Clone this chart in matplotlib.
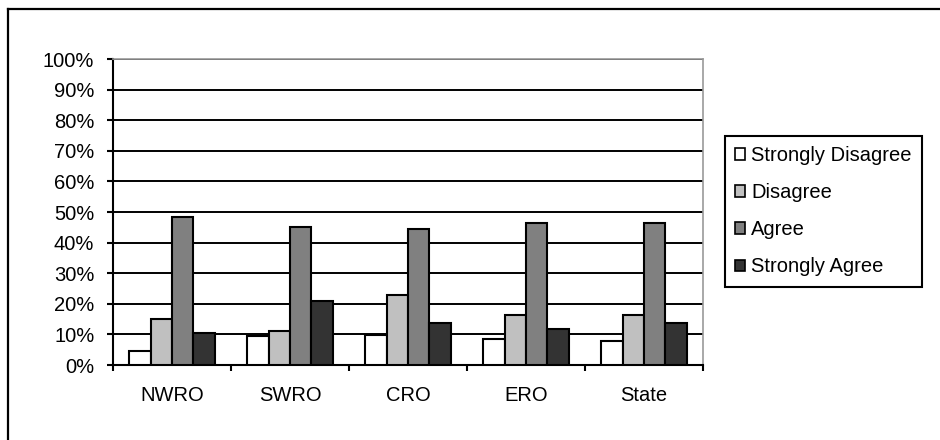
import numpy as np
import matplotlib
matplotlib.use("Agg")
import matplotlib.pyplot as plt
from matplotlib.patches import Patch
from matplotlib.lines import Line2D

plt.rcParams['font.family'] = ['Liberation Sans', 'DejaVu Sans']

regions = ["NWRO", "SWRO", "CRO", "ERO", "State"]
series_names = ["Strongly Disagree", "Disagree", "Agree", "Strongly Agree"]
strongly_disagree = [4.6, 9.5, 9.7, 8.5, 7.8]
disagree = [15.0, 11.1, 22.9, 16.2, 16.2]
agree = [48.3, 45.2, 44.3, 46.3, 46.3]
strongly_agree = [10.4, 21.0, 13.6, 11.9, 13.6]
y_ticks = [0, 10, 20, 30, 40, 50, 60, 70, 80, 90, 100]

series = [strongly_disagree, disagree, agree, strongly_agree]
colors = ["#FFFFFF", "#C0C0C0", "#808080", "#333333"]

W, H = 940, 440
fig = plt.figure(figsize=(W / 100, H / 100), dpi=100)
ax = fig.add_axes([113 / W, 75 / H, 590 / W, 306 / H])

x = np.arange(len(regions))
bw = 1 / 5.5
for i, (vals, col) in enumerate(zip(series, colors)):
    ax.bar(x + (i - 1.5) * bw, np.array(vals) / 100, width=bw, color=col,
           edgecolor="black", linewidth=1.5, zorder=3)

ax.set_xlim(-0.5, len(regions) - 0.5)
ax.set_ylim(0, 1)
ax.set_yticks(np.array(y_ticks) / 100)
ax.set_yticklabels([f"{v}%" for v in y_ticks])
ax.set_xticks(x)
ax.set_xticklabels(regions)
ax.set_xticks(np.arange(len(regions) + 1) - 0.5, minor=True)
ax.tick_params(axis="x", which="major", length=0, pad=15, labelsize=14.5)
ax.tick_params(axis="x", which="minor", length=4.5, width=1.5, direction="out")
ax.tick_params(axis="y", length=4.5, width=1.5, direction="out", pad=9, labelsize=14.5)

ax.yaxis.grid(True, color="black", linewidth=1.4, zorder=0)
ax.set_axisbelow(True)
for side in ("left", "bottom"):
    ax.spines[side].set_color("black")
    ax.spines[side].set_linewidth(1.5)
for side in ("top", "right"):
    ax.spines[side].set_color("#999999")
    ax.spines[side].set_linewidth(1.2)

handles = [Patch(facecolor=c, edgecolor="black", linewidth=1.2) for c in colors]
leg = ax.legend(handles, series_names, loc="upper left",
                bbox_to_anchor=(725 / W, 1 - 136 / H), bbox_transform=fig.transFigure,
                frameon=True, fancybox=False, framealpha=1, borderaxespad=0,
                fontsize=14.5, handlelength=0.5, handleheight=0.5,
                handletextpad=0.3, labelspacing=0.9, borderpad=0.5)
leg.get_frame().set_edgecolor("black")
leg.get_frame().set_linewidth(1.5)

# chart frame: left and top edges
fig.add_artist(Line2D([8 / W, 8 / W], [0, 1 - 9 / H], transform=fig.transFigure,
                      color="black", linewidth=1.6))
fig.add_artist(Line2D([8 / W, 1], [1 - 9 / H, 1 - 9 / H], transform=fig.transFigure,
                      color="black", linewidth=1.6))

fig.savefig("out.png", dpi=100, facecolor="white")
